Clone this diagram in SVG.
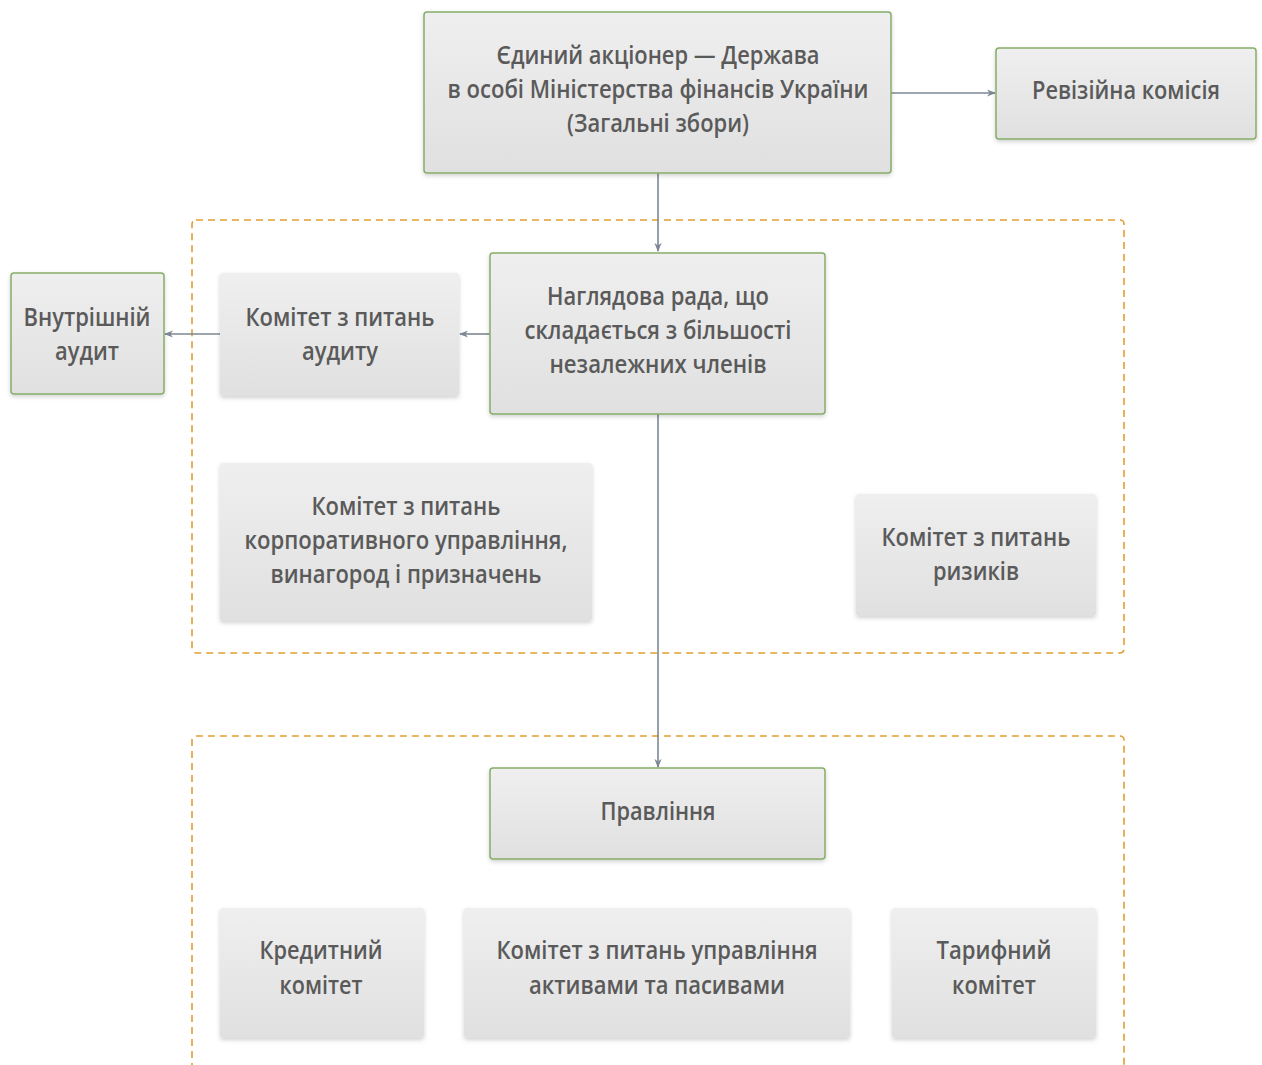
<svg xmlns="http://www.w3.org/2000/svg" width="1262" height="1065" viewBox="0 0 1262 1065">
<defs>
<linearGradient id="g" x1="0" y1="0" x2="0" y2="1">
<stop offset="0" stop-color="#efefef"/>
<stop offset="1" stop-color="#e0e0e0"/>
</linearGradient>
<filter id="sh" x="-10%" y="-10%" width="120%" height="130%">
<feDropShadow dx="0" dy="2" stdDeviation="2" flood-color="#000" flood-opacity="0.18"/>
</filter>
<marker id="ah" viewBox="0 0 10 10" refX="9" refY="5" markerWidth="9" markerHeight="9" markerUnits="userSpaceOnUse" orient="auto">
<path d="M0,1 L10,5 L0,9 L3,5 Z" fill="#7d8894"/>
</marker>
</defs>
<style>
.n{fill:url(#g);filter:url(#sh)}
.gb{stroke:#86ad68;stroke-width:1.5}
.t{font-family:"Open Sans","Noto Sans",sans-serif;font-weight:600;font-size:25px;fill:#5a5a5a;text-anchor:middle}
.c{stroke:#7d8894;stroke-width:1.6;fill:none}
.d{fill:none;stroke:#e29e32;stroke-width:1.6;stroke-dasharray:7 5}
</style>
<rect width="1262" height="1065" fill="#fff"/>
<g id="groups">
<rect class="d" x="192" y="220" width="932" height="433" rx="4"/>
<path class="d" d="M192,1070 V740 a4,4 0 0 1 4,-4 H1120 a4,4 0 0 1 4,4 V1070"/>
</g>
<g id="connectors">
<line class="c" x1="891" y1="93" x2="995" y2="93" marker-end="url(#ah)"/>
<line class="c" x1="658" y1="173" x2="658" y2="251" marker-end="url(#ah)"/>
<line class="c" x1="490" y1="334" x2="460" y2="334" marker-end="url(#ah)"/>
<line class="c" x1="220" y1="334" x2="165" y2="334" marker-end="url(#ah)"/>
<line class="c" x1="658" y1="414" x2="658" y2="767" marker-end="url(#ah)"/>
</g>
<g id="shareholder">
<rect class="n gb" x="424" y="12" width="467" height="161" rx="3"/>
<text class="t" x="658" y="64" textLength="323" lengthAdjust="spacingAndGlyphs">Єдиний акціонер — Держава</text>
<text class="t" x="658" y="98" textLength="421" lengthAdjust="spacingAndGlyphs">в особі Міністерства фінансів України</text>
<text class="t" x="658" y="132" textLength="182" lengthAdjust="spacingAndGlyphs">(Загальні збори)</text>
</g>
<g id="audit-commission">
<rect class="n gb" x="996" y="48" width="260" height="91" rx="3"/>
<text class="t" x="1126" y="99" textLength="188" lengthAdjust="spacingAndGlyphs">Ревізійна комісія</text>
</g>
<g id="supervisory-board">
<rect class="n gb" x="490" y="253" width="335" height="161" rx="3"/>
<text class="t" x="658" y="305" textLength="222" lengthAdjust="spacingAndGlyphs">Наглядова рада, що</text>
<text class="t" x="658" y="339" textLength="267" lengthAdjust="spacingAndGlyphs">складається з більшості</text>
<text class="t" x="658" y="373" textLength="217" lengthAdjust="spacingAndGlyphs">незалежних членів</text>
</g>
<g id="audit-committee">
<rect class="n" x="220" y="273" width="239" height="123" rx="3"/>
<text class="t" x="340" y="326" textLength="189" lengthAdjust="spacingAndGlyphs">Комітет з питань</text>
<text class="t" x="340" y="360" textLength="76" lengthAdjust="spacingAndGlyphs">аудиту</text>
</g>
<g id="internal-audit">
<rect class="n gb" x="11" y="273" width="153" height="121" rx="3"/>
<text class="t" x="87" y="326" textLength="127" lengthAdjust="spacingAndGlyphs">Внутрішній</text>
<text class="t" x="87" y="360" textLength="64" lengthAdjust="spacingAndGlyphs">аудит</text>
</g>
<g id="governance-committee">
<rect class="n" x="220" y="463" width="372" height="158" rx="3"/>
<text class="t" x="406" y="515" textLength="189" lengthAdjust="spacingAndGlyphs">Комітет з питань</text>
<text class="t" x="406" y="549" textLength="323" lengthAdjust="spacingAndGlyphs">корпоративного управління,</text>
<text class="t" x="406" y="583" textLength="271" lengthAdjust="spacingAndGlyphs">винагород і призначень</text>
</g>
<g id="risk-committee">
<rect class="n" x="856" y="494" width="240" height="122" rx="3"/>
<text class="t" x="976" y="546" textLength="189" lengthAdjust="spacingAndGlyphs">Комітет з питань</text>
<text class="t" x="976" y="580" textLength="86" lengthAdjust="spacingAndGlyphs">ризиків</text>
</g>
<g id="management-board">
<rect class="n gb" x="490" y="768" width="335" height="91" rx="3"/>
<text class="t" x="658" y="820" textLength="115" lengthAdjust="spacingAndGlyphs">Правління</text>
</g>
<g id="credit-committee">
<rect class="n" x="220" y="908" width="204" height="130" rx="3"/>
<text class="t" x="321" y="959" textLength="123" lengthAdjust="spacingAndGlyphs">Кредитний</text>
<text class="t" x="321" y="994" textLength="83" lengthAdjust="spacingAndGlyphs">комітет</text>
</g>
<g id="alco">
<rect class="n" x="464" y="908" width="386" height="130" rx="3"/>
<text class="t" x="657" y="959" textLength="321" lengthAdjust="spacingAndGlyphs">Комітет з питань управління</text>
<text class="t" x="657" y="994" textLength="256" lengthAdjust="spacingAndGlyphs">активами та пасивами</text>
</g>
<g id="tariff-committee">
<rect class="n" x="892" y="908" width="204" height="130" rx="3"/>
<text class="t" x="994" y="959" textLength="115" lengthAdjust="spacingAndGlyphs">Тарифний</text>
<text class="t" x="994" y="994" textLength="84" lengthAdjust="spacingAndGlyphs">комітет</text>
</g>
</svg>
